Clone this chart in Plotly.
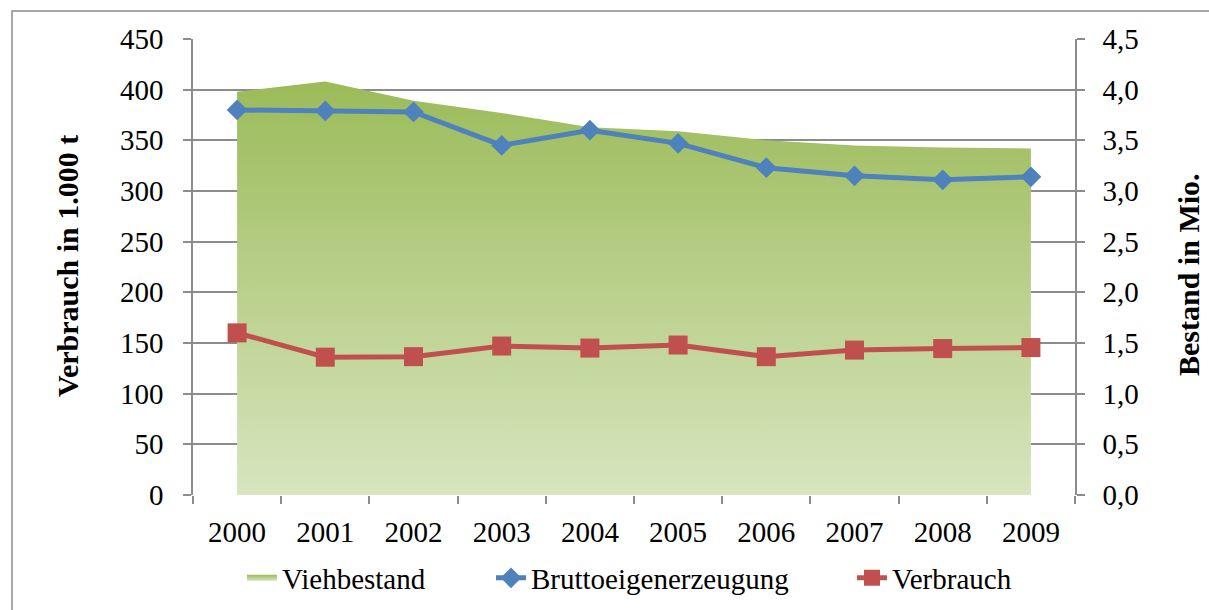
import plotly.graph_objects as go

years = ["2000", "2001", "2002", "2003", "2004", "2005", "2006", "2007", "2008", "2009"]
viehbestand = [3.98, 4.08, 3.89, 3.77, 3.63, 3.59, 3.50, 3.45, 3.43, 3.42]
brutto = [380, 379, 378, 345, 360, 347, 323, 315, 311, 314]
verbrauch = [160, 136, 136.5, 147, 145, 148, 136.5, 143, 144.5, 145.5]

left_ticks = list(range(0, 451, 50))
right_ticks = [i * 0.5 for i in range(10)]

W, H = 1209, 610
L, R, T, B = 193, 1075, 39, 495

pw, ph = R - L, B - T
def px(x):
    return (x - L) / pw
def py(y):
    return (B - y) / ph

fig = go.Figure()

fig.add_trace(go.Scatter(
    x=years, y=viehbestand, name="Viehbestand", yaxis="y", legend="legend",
    mode="none", fill="tozeroy",
    fillgradient=dict(type="vertical", colorscale=[[0, "#d8e5bf"], [1, "#9bbb59"]]),
))
fig.add_trace(go.Scatter(
    x=years, y=brutto, name="Bruttoeigenerzeugung", yaxis="y2", legend="legend2",
    mode="lines+markers", line=dict(color="#4f81bd", width=5),
    marker=dict(symbol="diamond", size=16, color="#4f81bd"),
))
fig.add_trace(go.Scatter(
    x=years, y=verbrauch, name="Verbrauch", yaxis="y2", legend="legend3",
    mode="lines+markers", line=dict(color="#c0504d", width=5),
    marker=dict(symbol="square", size=19, color="#c0504d"),
))

FAM = "Liberation Serif"
font = dict(family=FAM, size=29, color="black")
grid = "#8c8c8c"

def leg(text_start):
    return dict(x=px(text_start - 41), xanchor="left", y=(H - 578) / H, yref="container",
                yanchor="middle", orientation="h", bgcolor="rgba(0,0,0,0)",
                font=dict(family=FAM, size=29, color="black"))

fig.update_layout(
    template="none",
    width=W, height=H,
    margin=dict(l=L, r=W - R, t=T, b=H - B, autoexpand=False),
    paper_bgcolor="white", plot_bgcolor="white",
    font=font, separators=",.",
    showlegend=True,
    legend=leg(283), legend2=leg(532), legend3=leg(893),
    xaxis=dict(type="category", tickson="boundaries", ticks="outside", ticklen=8,
               tickcolor=grid, tickwidth=1.5, showline=False, showgrid=False, zeroline=False,
               range=[-0.5, 9.5], tickfont=font, ticklabelstandoff=17, automargin=False),
    yaxis=dict(side="right", range=[0, 4.5], tickvals=right_ticks, tickformat=".1f",
               showgrid=True, gridcolor=grid, gridwidth=1.5, zeroline=False,
               showline=True, linecolor=grid, linewidth=1.5,
               ticks="outside", ticklen=8, tickcolor=grid, tickwidth=1.5, tickfont=font,
               ticklabelstandoff=12, automargin=False),
    yaxis2=dict(side="left", overlaying="y", range=[0, 450], tickvals=left_ticks,
                showgrid=False, zeroline=False,
                showline=True, linecolor=grid, linewidth=1.5,
                ticks="outside", ticklen=8, tickcolor=grid, tickwidth=1.5, tickfont=font,
                ticklabelstandoff=14, automargin=False),
)

fig.add_annotation(text="<b>Verbrauch in 1.000 t</b>", textangle=-90, xref="paper", yref="paper",
                   x=px(67), y=py(266), xanchor="center", yanchor="middle",
                   showarrow=False, font=dict(family=FAM, size=30, color="black"))
fig.add_annotation(text="<b>Bestand in Mio.</b>", textangle=-90, xref="paper", yref="paper",
                   x=px(1188), y=py(275), xanchor="center", yanchor="middle",
                   showarrow=False, font=dict(family=FAM, size=30, color="black"))

fig.add_shape(type="rect", xref="paper", yref="paper",
              x0=px(12), x1=px(1230), y0=py(640), y1=py(11),
              line=dict(color="#8c8c8c", width=1.5), fillcolor="rgba(0,0,0,0)", layer="below")

fig.write_html("out.html", config={"displayModeBar": False},
               post_script="document.body.style.margin='0px';")
